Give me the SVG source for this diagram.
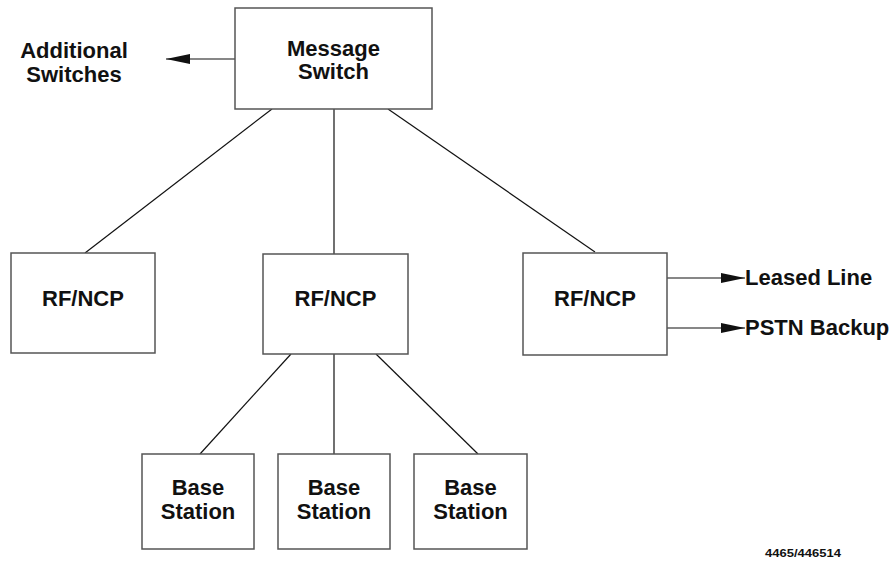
<svg xmlns="http://www.w3.org/2000/svg" width="891" height="565" viewBox="0 0 891 565">
  <style>
    .box { fill: #fff; stroke: #555; stroke-width: 1.5; }
    .lbl { font-family: "Liberation Sans", Arial, sans-serif; font-weight: bold; font-size: 22px; fill: #111; }
    .mid { text-anchor: middle; }
    .wire { stroke: #111; stroke-width: 1.2; fill: none; }
    .note { font-family: "Liberation Sans", Arial, sans-serif; font-weight: bold; font-size: 11px; fill: #111; }
  </style>
  <defs>
    <marker id="head" markerUnits="userSpaceOnUse" markerWidth="24" markerHeight="10" refX="24" refY="5" orient="auto">
      <path d="M0,0 L24,5 L0,10 Z" fill="#111"/>
    </marker>
  </defs>
  <rect width="891" height="565" fill="#fff"/>

  <g id="connectors">
    <line class="wire" x1="272" y1="109" x2="85" y2="253"/>
    <line class="wire" x1="334" y1="109" x2="334" y2="254"/>
    <line class="wire" x1="388" y1="109" x2="595" y2="252"/>
    <line class="wire" x1="291" y1="354" x2="200" y2="454"/>
    <line class="wire" x1="334" y1="354" x2="334" y2="454"/>
    <line class="wire" x1="376" y1="354" x2="478" y2="454"/>
    <line class="wire" x1="235" y1="59" x2="166" y2="59" marker-end="url(#head)"/>
    <line class="wire" x1="667" y1="278" x2="745" y2="278" marker-end="url(#head)"/>
    <line class="wire" x1="666" y1="328" x2="745" y2="328" marker-end="url(#head)"/>
  </g>

  <g id="message-switch">
    <rect class="box" x="235" y="8" width="197" height="101"/>
    <text class="lbl mid" x="333.5" y="56">Message</text>
    <text class="lbl mid" x="333.5" y="79">Switch</text>
  </g>

  <g id="additional-switches">
    <text class="lbl mid" x="74" y="58">Additional</text>
    <text class="lbl mid" x="74" y="82">Switches</text>
  </g>

  <g id="rfncp-left">
    <rect class="box" x="11" y="253" width="144" height="100"/>
    <text class="lbl mid" x="83" y="306">RF/NCP</text>
  </g>
  <g id="rfncp-center">
    <rect class="box" x="263" y="254" width="145" height="100"/>
    <text class="lbl mid" x="335.5" y="306">RF/NCP</text>
  </g>
  <g id="rfncp-right">
    <rect class="box" x="523" y="253" width="144" height="102"/>
    <text class="lbl mid" x="595" y="306">RF/NCP</text>
  </g>

  <g id="leased-line">
    <text class="lbl" x="745" y="285">Leased Line</text>
  </g>
  <g id="pstn-backup">
    <text class="lbl" x="745" y="335">PSTN Backup</text>
  </g>

  <g id="base-station-1">
    <rect class="box" x="142" y="454" width="112" height="95"/>
    <text class="lbl mid" x="198" y="495">Base</text>
    <text class="lbl mid" x="198" y="519">Station</text>
  </g>
  <g id="base-station-2">
    <rect class="box" x="278" y="454" width="112" height="95"/>
    <text class="lbl mid" x="334" y="495">Base</text>
    <text class="lbl mid" x="334" y="519">Station</text>
  </g>
  <g id="base-station-3">
    <rect class="box" x="414" y="454" width="113" height="95"/>
    <text class="lbl mid" x="470.5" y="495">Base</text>
    <text class="lbl mid" x="470.5" y="519">Station</text>
  </g>

  <text class="note" x="765" y="557" textLength="76" lengthAdjust="spacingAndGlyphs">4465/446514</text>
</svg>
